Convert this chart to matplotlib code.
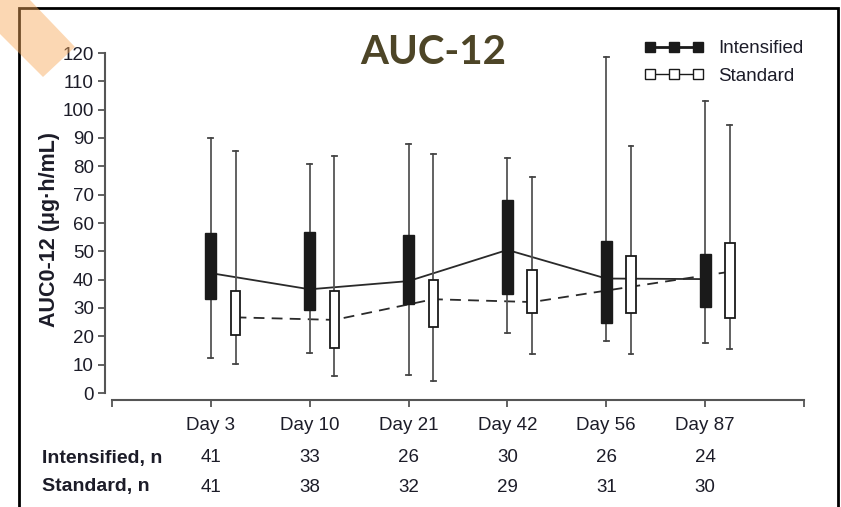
import matplotlib
matplotlib.use("Agg")
import matplotlib.pyplot as plt
import matplotlib.font_manager as fm
from matplotlib.lines import Line2D
from matplotlib.patches import Rectangle, Polygon

# --- data -------------------------------------------------------------
days = ["Day 3", "Day 10", "Day 21", "Day 42", "Day 56", "Day 87"]
intensified_n = [41, 33, 26, 30, 26, 24]
standard_n = [41, 38, 32, 29, 31, 30]

int_low = [12.2, 14.2, 6.4, 21.1, 18.5, 17.8]
int_q1 = [33.1, 29.3, 31.4, 34.9, 24.8, 30.2]
int_q3 = [56.4, 56.8, 55.8, 68.1, 53.5, 49.1]
int_high = [90.1, 80.9, 88.0, 82.9, 118.6, 103.1]
int_mid = [42.3, 36.6, 39.5, 50.5, 40.4, 40.2]

std_low = [10.1, 6.0, 4.3, 13.7, 13.7, 15.5]
std_q1 = [20.5, 16.0, 23.4, 28.3, 28.3, 26.6]
std_q3 = [36.1, 36.1, 39.9, 43.4, 48.5, 52.8]
std_high = [85.5, 83.7, 84.4, 76.2, 87.3, 94.6]
std_mid = [26.7, 25.8, 33.1, 32.1, 37.5, 42.8]

yticks = list(range(0, 121, 10))

# --- fonts ------------------------------------------------------------
names = {f.name for f in fm.fontManager.ttflist}
if "Liberation Sans Narrow" in names:
    FAM, FS, FS_BOLD = ["Liberation Sans Narrow", "Liberation Sans"], 16.5, 17
else:
    FAM, FS, FS_BOLD = ["Liberation Sans"], 13.5, 14
TXT = "#1c1c28"

W, H = 841, 507
fig = plt.figure(figsize=(W / 100, H / 100), dpi=100)
fig.patch.set_facecolor("white")

# axes placed so x = 0..7 and y = 0..120 span the plotting area
x0, x1 = 112, 804
y_top, y_bot = 53, 393
ax = fig.add_axes([x0 / W, (H - y_bot) / H, (x1 - x0) / W, (y_bot - y_top) / H])
ax.set_xlim(0, 7)
ax.set_ylim(0, 120)

pos_int = [i + 1 for i in range(len(days))]
pos_std = [p + 0.25 for p in pos_int]


def stats(lo, q1, q3, hi, mid):
    return [dict(whislo=a, q1=b, q3=c, whishi=d, med=e, fliers=[])
            for a, b, c, d, e in zip(lo, q1, q3, hi, mid)]


# connecting lines (behind the boxes)
ax.plot(pos_int, int_mid, color="#2a2a2a", lw=1.3, zorder=2)
ax.plot(pos_std, std_mid, color="#2a2a2a", lw=1.3, ls=(0, (6, 4)), zorder=2)

common = dict(showfliers=False, patch_artist=True, manage_ticks=False,
              whiskerprops=dict(color="#555555", lw=1.3),
              capprops=dict(color="#444444", lw=1.3),
              medianprops=dict(lw=0))
b1 = ax.bxp(stats(int_low, int_q1, int_q3, int_high, int_mid), positions=pos_int,
            widths=0.11, boxprops=dict(facecolor="#1a1a1a", edgecolor="#1a1a1a", lw=1.0),
            **common)
b2 = ax.bxp(stats(std_low, std_q1, std_q3, std_high, std_mid), positions=pos_std,
            widths=0.095, boxprops=dict(facecolor="white", edgecolor="#1a1a1a", lw=1.3),
            **common)
for caps in (b1["caps"], b2["caps"]):
    for c in caps:
        xd = c.get_xdata()
        m = (xd[0] + xd[1]) / 2
        c.set_xdata([m - 0.025, m + 0.025])
for part in ("boxes", "whiskers", "caps"):
    for art in b1[part] + b2[part]:
        art.set_zorder(3 if part != "boxes" else 4)

# axes styling
for s in ("top", "right"):
    ax.spines[s].set_visible(False)
ax.spines["left"].set_position(("outward", 5))
ax.spines["bottom"].set_position(("outward", 5))
for s in ("left", "bottom"):
    ax.spines[s].set_color("#555555")
    ax.spines[s].set_linewidth(1.5)

ax.set_yticks(yticks)
ax.set_yticklabels([str(v) for v in yticks], fontfamily=FAM, fontsize=FS, color=TXT)
ax.set_xticks(range(0, 8))
ax.set_xticklabels([""] + days + [""], fontfamily=FAM, fontsize=FS, color=TXT)
ax.tick_params(axis="both", direction="out", length=5, width=1.3, color="#555555")
ax.tick_params(axis="y", pad=3)
ax.tick_params(axis="x", pad=7)

ax.set_ylabel("AUC0-12 (\u03bcg\u00b7h/mL)", fontfamily="Liberation Sans",
              fontweight="bold", fontsize=15.5, color=TXT)
ax.yaxis.set_label_coords(-0.075, 0.48)

# title
fig.text(433 / W, 1 - 53 / H, "AUC-12", ha="center", va="center",
         fontfamily=["Lato", "DejaVu Sans"], fontweight="bold", fontsize=29,
         color="#4d4527")

# legend
handles = [
    Line2D([0], [0], color="#1a1a1a", lw=2.0, marker="s", markersize=7.5,
           markerfacecolor="#1a1a1a", markeredgecolor="#1a1a1a"),
    Line2D([0], [0], color="#1a1a1a", lw=1.0, marker="s", markersize=6.5,
           markerfacecolor="white", markeredgecolor="#1a1a1a"),
]
fig.legend(handles, ["Intensified", "Standard"], loc="upper left",
           bbox_to_anchor=(644 / W, 1 - 40 / H), frameon=False, numpoints=3,
           handlelength=3.2, handletextpad=0.75, labelspacing=0.55,
           prop=dict(family=FAM, size=FS), labelcolor=TXT, borderaxespad=0,
           borderpad=0)

# sample size table below the axis
for row_y, label, vals in ((458, "Intensified, n", intensified_n),
                           (487, "Standard, n", standard_n)):
    fig.text(42 / W, 1 - row_y / H, label, ha="left", va="center",
             fontfamily=FAM, fontweight="bold", fontsize=FS_BOLD, color=TXT)
    for p, v in zip(pos_int, vals):
        xf = fig.transFigure.inverted().transform(ax.transData.transform((p, 0)))[0]
        fig.text(xf, 1 - row_y / H, str(v), ha="center", va="center",
                 fontfamily=FAM, fontsize=FS, color=TXT)

# outer frame
fig.add_artist(Rectangle((19 / W, -0.1), (838 - 19) / W, 1.1 - 8 / H,
                         transform=fig.transFigure, fill=False,
                         edgecolor="black", lw=2, zorder=10))

# corner ribbon
pts = [(0, 0), (30, 0), (75, 47), (43, 77), (0, 34)]
fig.add_artist(Polygon([(x / W, 1 - y / H) for x, y in pts], closed=True,
                       transform=fig.transFigure, facecolor="#f8a858",
                       edgecolor="none", alpha=0.45, zorder=11))

fig.savefig("out.png", dpi=100)
